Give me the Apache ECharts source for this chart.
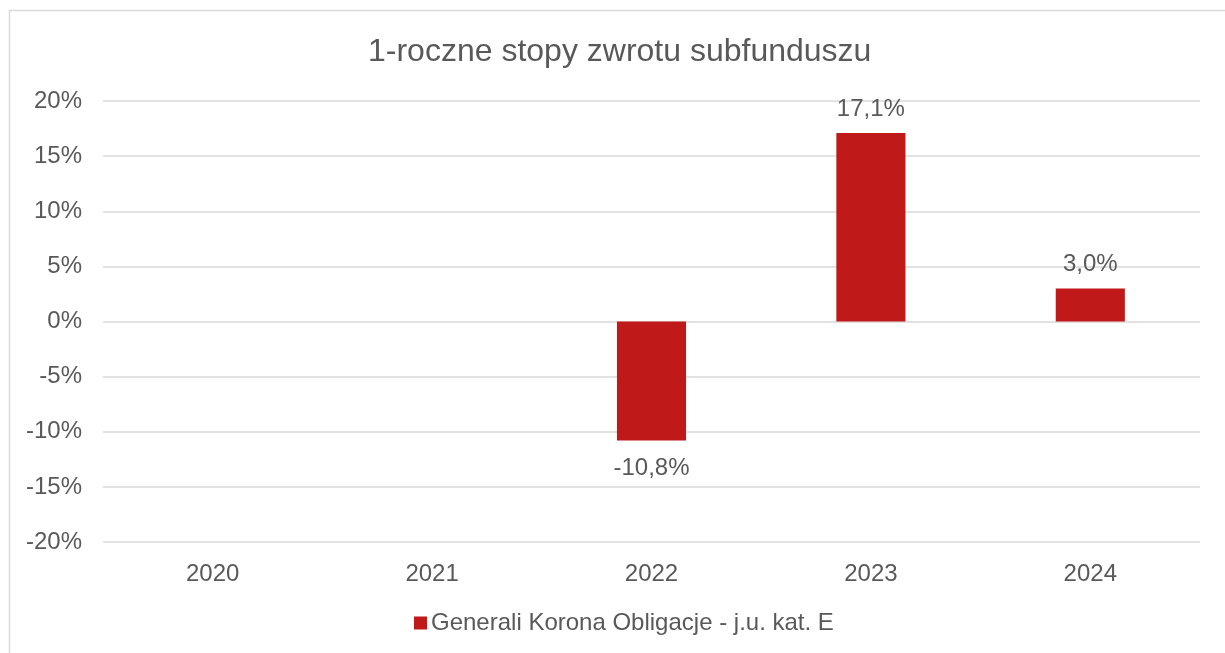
<!DOCTYPE html>
<html>
<head>
<meta charset="utf-8">
<script src="https://cdn.jsdelivr.net/npm/echarts@6/dist/echarts.min.js"></script>
<style>
  html, body { margin: 0; padding: 0; background: #fff; }
  #main { width: 1225px; height: 653px; }
</style>
</head>
<body>
<div id="main"></div>
<script>
// dane z wykresu
var lata = ['2020', '2021', '2022', '2023', '2024'];
var stopyZwrotu = [null, null, -10.8, 17.1, 3.0];
var nazwaSerii = 'Generali Korona Obligacje - j.u. kat. E';
var osY = { min: -20, max: 20, krok: 5 };

var myChart = echarts.init(document.getElementById('main'));

// ujemne slupki maja etykiete pod spodem
var daneSlupkow = stopyZwrotu.map(function (v) {
    if (v === null) return '-';
    if (v < 0) return { value: v, label: { position: 'bottom', distance: 16 } };
    return v;
});

var kolorTekstu = '#595959';
var czcionka = '"Liberation Sans", Arial, sans-serif';

var option = {
    animation: false,
    textStyle: { fontFamily: czcionka },
    graphic: [{
        type: 'rect',
        shape: { x: 9.5, y: 10.5, width: 1400, height: 800 },
        style: { fill: 'none', stroke: '#d9d9d9', lineWidth: 1.5 },
        silent: true
    }],
    title: {
        text: '1-roczne stopy zwrotu subfunduszu',
        left: 363,
        top: 31,
        textStyle: { color: kolorTekstu, fontSize: 32, fontWeight: 'normal', fontFamily: czcionka }
    },
    legend: {
        data: [nazwaSerii],
        bottom: 13,
        left: 409,
        icon: 'rect',
        itemWidth: 13,
        itemHeight: 13,
        itemGap: 5,
        textStyle: { color: kolorTekstu, fontSize: 24, fontFamily: czcionka, padding: [0, 0, 0, -1] }
    },
    grid: { left: 103, right: 25, top: 101, bottom: 111, containLabel: false },
    xAxis: {
        type: 'category',
        data: lata,
        axisLine: { show: false },
        axisTick: { show: false },
        axisLabel: { color: kolorTekstu, fontSize: 24, margin: 20, fontFamily: czcionka }
    },
    yAxis: {
        type: 'value',
        min: osY.min,
        max: osY.max,
        interval: osY.krok,
        axisLine: { show: false },
        axisTick: { show: false },
        axisLabel: {
            color: kolorTekstu, fontSize: 24, margin: 21, fontFamily: czcionka,
            formatter: function (v) { return v + '%'; }
        },
        splitLine: { lineStyle: { color: '#d9d9d9', width: 1.5 } }
    },
    series: [{
        name: nazwaSerii,
        type: 'bar',
        data: daneSlupkow,
        barWidth: '31.5%',
        itemStyle: { color: '#c0191a' },
        label: {
            show: true,
            position: 'top',
            distance: 12,
            color: kolorTekstu,
            fontSize: 24,
            fontFamily: czcionka,
            formatter: function (p) { return p.value.toFixed(1).replace('.', ',') + '%'; }
        }
    }]
};
myChart.setOption(option);
</script>
</body>
</html>
